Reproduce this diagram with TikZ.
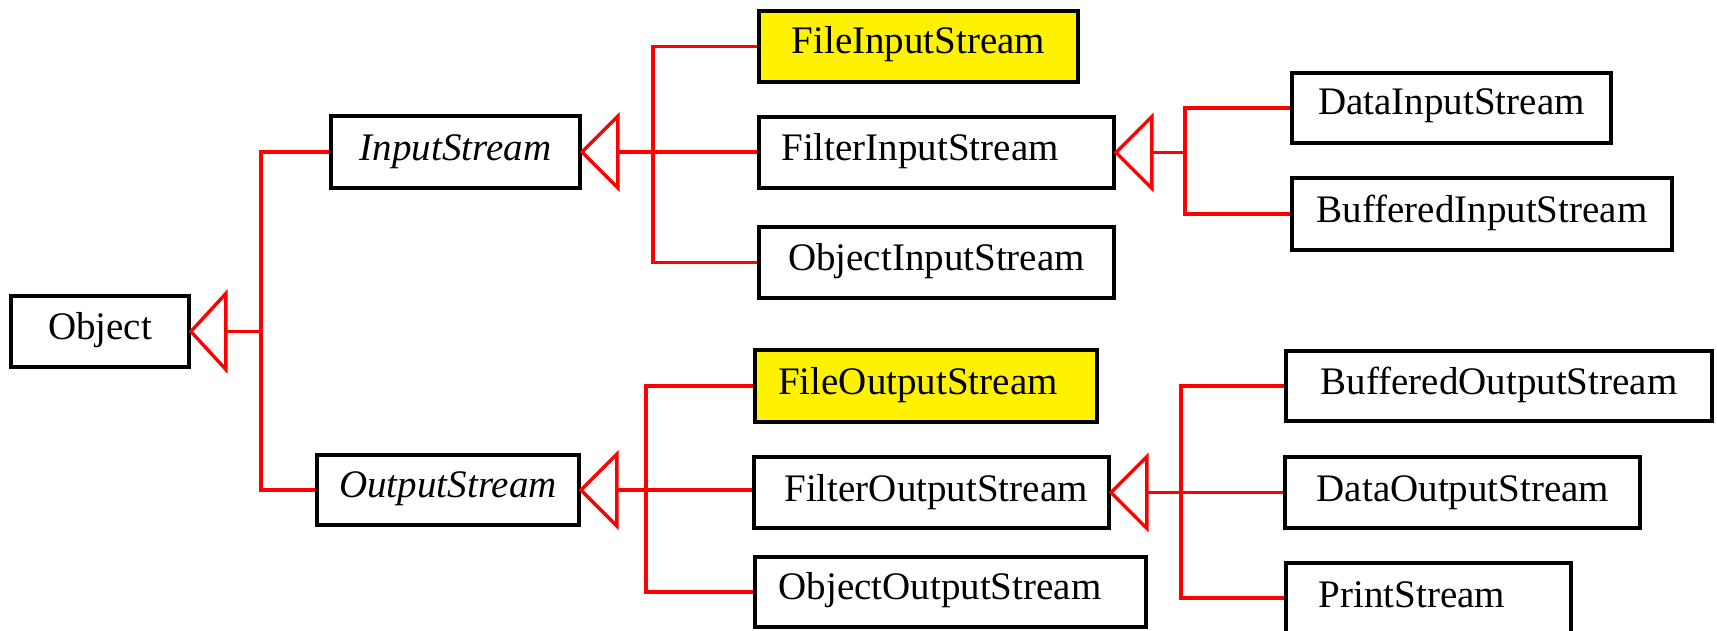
\documentclass[tikz,border=0pt]{standalone}
\usepackage{fontspec}
\setmainfont{Liberation Serif}
\usetikzlibrary{calc}
\begin{document}
\begin{tikzpicture}[x=0.5pt,y=-0.5pt,
  box/.style={draw=black, line width=1.9pt, rectangle, inner sep=0pt, fill=white},
  hot/.style={box, fill=yellow},
  sz/.style 2 args={minimum width=#1*0.5pt, minimum height=#2*0.5pt},
  lbl/.style={anchor=base, inner sep=0pt, font=\fontsize{19.5}{23}\selectfont},
  ital/.style={lbl, font=\fontsize{19.5}{23}\selectfont\itshape},
  conn/.style={draw=red, line width=1.7pt},
  inh/.style={draw=red, line width=1.7pt, line join=miter}]
\useasboundingbox (0,0) rectangle (1717,631);

% boxes
\node[box, sz={178}{71}] (obj) at (100,331.5) {};
\node[box, sz={249}{72}] (ins) at (455.5,152) {};
\node[box, sz={262}{70}] (outs) at (448,490) {};
\node[hot, sz={319}{71}] (fis) at (918.5,46.5) {};
\node[box, sz={355}{71}] (fils) at (936.5,152.5) {};
\node[box, sz={355}{71}] (ois) at (936.5,262.5) {};
\node[box, sz={319}{70}] (dis) at (1451.5,108) {};
\node[box, sz={380}{72}] (bis) at (1482,214) {};
\node[hot, sz={342}{72}] (fos) at (926,386) {};
\node[box, sz={355}{71}] (filos) at (931.5,492.5) {};
\node[box, sz={391}{70}] (oos) at (950.5,592) {};
\node[box, sz={426}{70}] (bos) at (1499,386) {};
\node[box, sz={355}{71}] (dos) at (1462.5,492.5) {};
\node[box, sz={285}{70}] (ps) at (1428.5,598) {};

% labels
\node[lbl] (tobj) at (100,339) {Object};
\node[ital] (tins) at (455.5,160) {InputStream};
\node[ital] (touts) at (448,497) {OutputStream};
\node[lbl] (tfis) at (918.5,54) {FileInputStream};
\node[lbl] (tfils) at (920,160) {FilterInputStream};
\node[lbl] (tois) at (936.5,270) {ObjectInputStream};
\node[lbl] (tdis) at (1451.5,115) {DataInputStream};
\node[lbl] (tbis) at (1482,222) {BufferedInputStream};
\node[lbl] (tfos) at (918,394) {FileOutputStream};
\node[lbl] (tfilos) at (936,501) {FilterOutputStream};
\node[lbl] (toos) at (940,599) {ObjectOutputStream};
\node[lbl] (tbos) at (1499,394) {BufferedOutputStream};
\node[lbl] (tdos) at (1463,501) {DataOutputStream};
\node[lbl] (tps) at (1412,607) {PrintStream};

% inheritance triangles
\draw[inh] (obj.east) -- ++(35,-38) -- ++(0,76) -- cycle;
\draw[inh] (ins.east) -- ++(36,-36) -- ++(0,72) -- cycle;
\draw[inh] (fils.east) -- ++(36,-36) -- ++(0,72) -- cycle;
\draw[inh] (outs.east) -- ++(36,-36) -- ++(0,72) -- cycle;
\draw[inh] (filos.east) -- ++(36,-36) -- ++(0,72) -- cycle;

\coordinate (objB) at ($(obj.east)+(35,0)$);
\coordinate (insB) at ($(ins.east)+(36,0)$);
\coordinate (filsB) at ($(fils.east)+(36,0)$);
\coordinate (outsB) at ($(outs.east)+(36,0)$);
\coordinate (filosB) at ($(filos.east)+(36,0)$);
\coordinate (bus0) at (261,0);
\coordinate (bus1) at (653,0);
\coordinate (bus2) at (1185,0);
\coordinate (bus3) at (646,0);
\coordinate (bus4) at (1181,0);

% connectors
\draw[conn] (objB) -- (bus0 |- objB);
\draw[conn] (ins.west) -- (bus0 |- ins.west) -- (bus0 |- outs.west) -- (outs.west);

\draw[conn] (insB) -- (insB -| fils.west);
\draw[conn] (fis.west) -- (bus1 |- fis.west) -- (bus1 |- ois.west) -- (ois.west);

\draw[conn] (filsB) -- (bus2 |- filsB);
\draw[conn] (dis.west) -- (bus2 |- dis.west) -- (bus2 |- bis.west) -- (bis.west);

\draw[conn] (outsB) -- (outsB -| filos.west);
\draw[conn] (fos.west) -- (bus3 |- fos.west) -- (bus3 |- oos.west) -- (oos.west);

\draw[conn] (filosB) -- (dos.west);
\draw[conn] (bos.west) -- (bus4 |- bos.west) -- (bus4 |- ps.west) -- (ps.west);
\end{tikzpicture}
\end{document}
